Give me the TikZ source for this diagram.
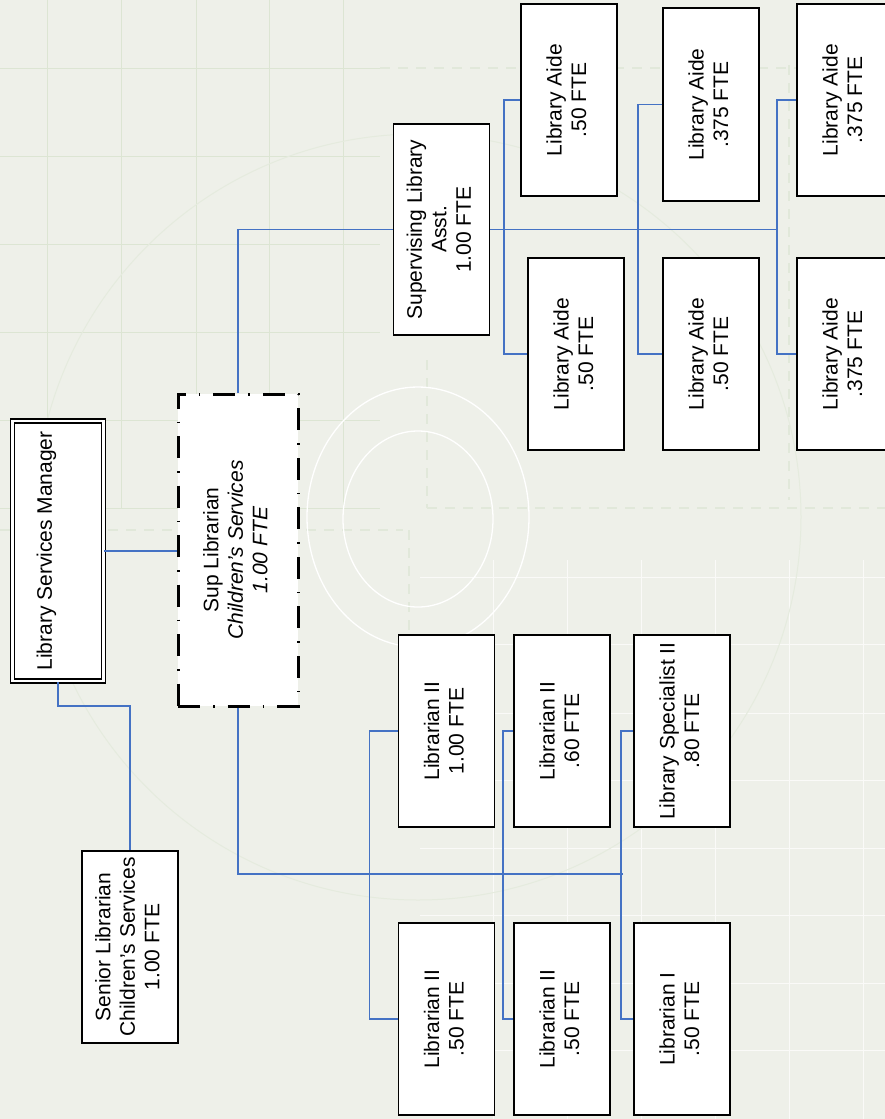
\documentclass[tikz,border=0pt]{standalone}
\usepackage{fontspec}
\setmainfont{Liberation Sans}
\usepackage{graphicx}

\definecolor{orgblue}{HTML}{4472C4}
\definecolor{paper}{HTML}{EEF0E9}
\definecolor{gridgreen}{HTML}{DCE5D3}

\newcommand{\uptext}[1]{\rotatebox{90}{\begin{tabular}{@{}c@{}}#1\end{tabular}}}

\tikzset{
  postbox/.style={draw=black, line width=1.8pt, fill=white, inner sep=0pt,
                  minimum width=96pt, minimum height=192pt},
  leadbox/.style={draw=black, line width=3pt, fill=white, inner sep=0pt,
                  dash pattern=on 22pt off 13pt on 1.5pt off 13pt,
                  minimum width=120pt, minimum height=312pt},
  chiefbox/.style={draw=black, double, double distance=2.6pt, line width=1.5pt,
                  fill=white, inner sep=0pt, minimum width=91pt, minimum height=260pt},
  orgline/.style={draw=orgblue, line width=1.6pt},
  guide/.style={gridgreen!70!paper, line width=1.2pt, dash pattern=on 10pt off 8pt},
}

\begin{document}
\begin{tikzpicture}[x=1pt, y=-1pt, font=\fontsize{21}{24.5}\selectfont]

   \useasboundingbox (0,0) rectangle (885,1119);
   \fill [paper] (0,0) rectangle (885,1119);

   % background pattern
   \foreach \gx in {47,121,196,269,343}
      \draw [gridgreen, line width=1pt] (\gx,0) -- (\gx,508);
   \foreach \gy in {68,156,244,332,420,508}
      \draw [gridgreen, line width=1pt] (0,\gy) -- (380,\gy);
   \foreach \gx in {493,567,641,715,789,863}
      \draw [white!70!paper, line width=1pt] (\gx,560) -- (\gx,1119);
   \foreach \gy in {577,644,713,780,848,915,983,1050}
      \draw [white!70!paper, line width=1pt] (420,\gy) -- (885,\gy);
   \draw [guide] (0,530) -- (403,530);
   \draw [guide] (427,508) -- (885,508);
   \draw [guide] (427,360) -- (427,508);
   \draw [guide] (409,530) -- (409,640);
   \draw [guide] (789,65) -- (789,500);
   \draw [guide] (380,68) -- (885,68);
   \draw [gridgreen!50!paper, line width=1pt] (418,517) circle [radius=383pt];
   \draw [white, line width=1.3pt] (418,517) ellipse [x radius=111pt, y radius=130pt];
   \draw [white, line width=1.3pt] (418,519) ellipse [x radius=75pt, y radius=88pt];

   \node (Manager) at (58,551) [chiefbox] {\uptext{\raisebox{11pt}[\height][\depth]{Library Services Manager}}};
   \node (SupLibrarian) at (238,550) [leadbox] {\uptext{Sup Librarian\\\textit{Children's Services}\\\textit{1.00 FTE}}};
   \node (Senior) at (130,947) [postbox] {\uptext{Senior Librarian\\Children's Services\\1.00 FTE}};

   \node (LibrarianA) at (446.5,731) [postbox] {\uptext{Librarian II\\1.00 FTE}};
   \node (LibrarianB) at (562,731) [postbox] {\uptext{Librarian II\\.60 FTE}};
   \node (Specialist) at (682,731) [postbox] {\uptext{Library Specialist II\\.80 FTE}};
   \node (LibrarianC) at (446.5,1019) [postbox] {\uptext{Librarian II\\.50 FTE}};
   \node (LibrarianD) at (562,1019) [postbox] {\uptext{Librarian II\\.50 FTE}};
   \node (LibrarianI) at (682,1019) [postbox] {\uptext{Librarian I\\.50 FTE}};

   \node (SupAsst) at (441.5,229.5) [postbox, minimum height=211pt] {\uptext{Supervising Library\\Asst.\\1.00 FTE}};
   \node (AideA) at (569,100) [postbox] {\uptext{Library Aide\\.50 FTE}};
   \node (AideB) at (711,104.5) [postbox, minimum height=193pt] {\uptext{Library Aide\\.375 FTE}};
   \node (AideC) at (845,100) [postbox] {\uptext{Library Aide\\.375 FTE}};
   \node (AideD) at (576,354) [postbox] {\uptext{Library Aide\\.50 FTE}};
   \node (AideE) at (711,354) [postbox] {\uptext{Library Aide\\.50 FTE}};
   \node (AideF) at (845,354) [postbox] {\uptext{Library Aide\\.375 FTE}};

   \coordinate (SeniorBend) at (130,706);
   \coordinate (StaffBus) at (623,874);
   \coordinate (AideBus) at (778,229.5);

   \draw [orgline] (Manager.east) -- (Manager.east -| SupLibrarian.west);
   \draw [orgline] (Manager.south) |- (SeniorBend) -- (Senior.north);

   \draw [orgline] (SupLibrarian.south) |- (StaffBus);
   \draw [orgline] (LibrarianA.west) -- ++(-28,0) |- (LibrarianC.west);
   \draw [orgline] (LibrarianB.west) -- ++(-10,0) |- (LibrarianD.west);
   \draw [orgline] (Specialist.west) -- ++(-12,0) |- (LibrarianI.west);

   \draw [orgline] (SupLibrarian.north) |- (SupAsst.west);
   \draw [orgline] (SupAsst.east) -- (AideBus);
   \draw [orgline] (AideA.west) -- ++(-16,0) |- (AideD.west);
   \draw [orgline] (AideB.west) -- ++(-24,0) |- (AideE.west);
   \draw [orgline] (AideC.west) -- ++(-19,0) |- (AideF.west);

\end{tikzpicture}
\end{document}
